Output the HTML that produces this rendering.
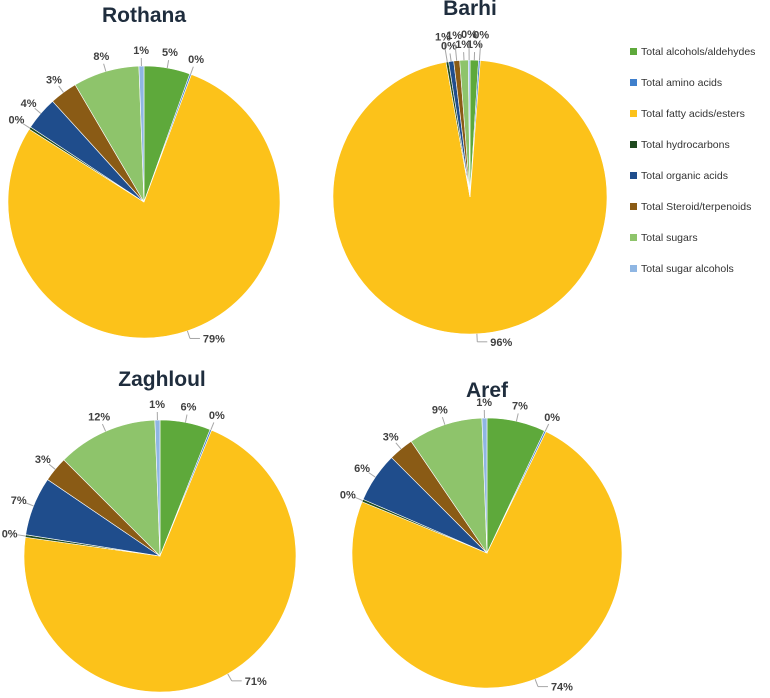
<!DOCTYPE html>
<html><head><meta charset="utf-8">
<style>
body{margin:0;background:#fff;width:770px;height:693px;overflow:hidden;font-family:"Liberation Sans",sans-serif}
svg text{font-family:"Liberation Sans",sans-serif}
</style></head>
<body>
<svg id="chart" width="770" height="693" viewBox="0 0 770 693" xmlns="http://www.w3.org/2000/svg">
<g id="pies"></g>
<g id="legend"></g>
</svg>
<script>
const categories = ["Total alcohols/aldehydes","Total amino acids","Total fatty acids/esters","Total hydrocarbons","Total organic acids","Total Steroid/terpenoids","Total sugars","Total sugar alcohols"];
const cultivars = ["Rothana","Barhi","Zaghloul","Aref"];
const rothanaValues = [5.5,0.2,78.8,0.3,4.0,3.3,7.9,0.6];
const barhiValues = [1.0,0.2,96.0,0.3,0.6,0.7,1.0,0.2];
const zaghloulValues = [6.0,0.2,71.0,0.3,7.0,3.0,11.9,0.6];
const arefValues = [7.0,0.2,74.0,0.3,6.0,3.0,8.9,0.6];
const rothanaLabels = ["5%","0%","79%","0%","4%","3%","8%","1%"];
const barhiLabels = ["1%","0%","96%","1%","0%","1%","1%","0%"];
const zaghloulLabels = ["6%","0%","71%","0%","7%","3%","12%","1%"];
const arefLabels = ["7%","0%","74%","0%","6%","3%","9%","1%"];

const colors=["#5ea93b","#3f7fcc","#fcc21a","#1f4a1f","#1f4d8c","#8a5b15","#8ec46b","#8fb6e3"];
const layout=[{cx:144,cy:202,r:136,tx:144,ty:22},{cx:470,cy:197,r:137,tx:470,ty:15},{cx:160,cy:556,r:136,tx:162,ty:386},{cx:487,cy:553,r:135,tx:487,ty:397}];
const allValues=[rothanaValues,barhiValues,zaghloulValues,arefValues];
const allLabels=[rothanaLabels,barhiLabels,zaghloulLabels,arefLabels];
const NS="http://www.w3.org/2000/svg";
const pies=document.getElementById('pies');
function mk(t,a,p){const e=document.createElementNS(NS,t);for(const k in a)e.setAttribute(k,a[k]);p.appendChild(e);return e;}
function pt(cx,cy,r,a){return [cx+r*Math.sin(a),cy-r*Math.cos(a)];}
allValues.forEach((vals,pi)=>{
  const L=layout[pi];
  const g=mk('g',{},pies);
  
  
  const t=mk('text',{x:L.tx,y:L.ty,'text-anchor':'middle','font-size':'21','font-weight':'bold',fill:'#1f2d3d'},g);
  t.textContent=cultivars[pi];
  
  
  const total=vals.reduce((a,b)=>a+b,0);
  let a0=0;
  vals.forEach((v,i)=>{
    const a1=a0+v/total*2*Math.PI;
    const p0=pt(L.cx,L.cy,L.r,a0),p1=pt(L.cx,L.cy,L.r,a1);
    const large=(a1-a0)>Math.PI?1:0;
    const s=mk('path',{d:`M${L.cx},${L.cy} L${p0[0]},${p0[1]} A${L.r},${L.r} 0 ${large} 1 ${p1[0]},${p1[1]} Z`,fill:colors[i],stroke:'#fff','stroke-width':'0.6'},g);
    
    
    const am=(a0+a1)/2;
    const big=(a1-a0)>Math.PI;
    const extra=(pi===1&&!big)?(i%2)*10:0;
    const e=pt(L.cx,L.cy,L.r,am),m=pt(L.cx,L.cy,L.r+8+extra,am);
    let lp=pt(L.cx,L.cy,L.r+16+extra,am);
    mk('line',{x1:e[0],y1:e[1],x2:m[0],y2:m[1],stroke:'#a6a6a6','stroke-width':'1'},g);
    let lx=lp[0],ly=lp[1]+4;
    if(big){
      mk('line',{x1:m[0],y1:m[1],x2:m[0]+10,y2:m[1],stroke:'#a6a6a6','stroke-width':'1'},g);
      lx=m[0]+24;ly=m[1]+4;
    }
    const lt=mk('text',{x:lx,y:ly,'text-anchor':'middle','font-size':'11','font-weight':'bold',fill:'#404040'},g);
    lt.textContent=allLabels[pi][i];
    
    
    a0=a1;
  });
});
const lg=document.getElementById('legend');
categories.forEach((c,i)=>{
  const y=52+i*31;
  const r=mk('rect',{x:630,y:y-4,width:7,height:7,fill:colors[i]},lg);
  
  
  const t=mk('text',{x:641,y:y+3,'font-size':'10.5',fill:'#333'},lg);
  t.textContent=c;
  
  
});
</script>
</body></html>
